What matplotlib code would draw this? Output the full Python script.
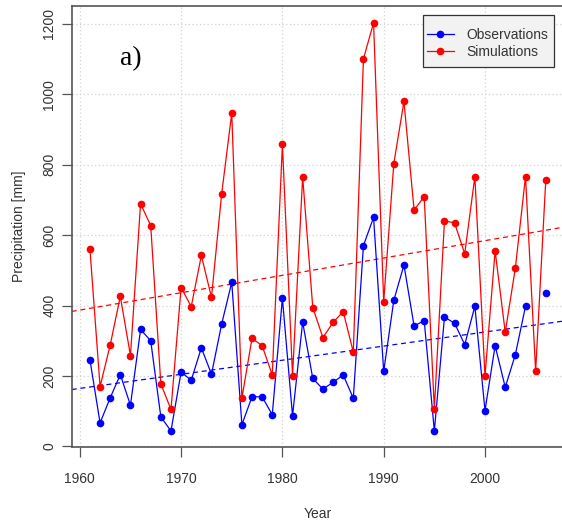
import numpy as np
import matplotlib
matplotlib.use('Agg')
import matplotlib.pyplot as plt
from matplotlib.patches import Rectangle

# Annual precipitation totals [mm], 1961-2006 (observation for 2005 missing)
years = list(range(1961, 2007))
observations = [246, 67, 138, 204, 117, 332, 300, 84, 44, 211,
                188, 280, 205, 347, 466, 62, 141, 141, 90, 421,
                87, 353, 193, 163, 182, 203, 137, 570, 650, 213,
                415, 515, 342, 357, 44, 367, 350, 289, 398, 102,
                286, 168, 261, 398, np.nan, 436]
simulations = [560, 170, 288, 426, 258, 689, 627, 178, 105, 451,
               397, 542, 423, 716, 946, 137, 307, 286, 203, 858,
               201, 765, 394, 309, 352, 383, 268, 1100, 1202, 411,
               803, 979, 671, 709, 107, 641, 634, 547, 766, 200,
               555, 324, 507, 766, 214, 756]
x_ticks = [1960, 1970, 1980, 1990, 2000]
y_ticks = [0, 200, 400, 600, 800, 1000, 1200]

plt.rcParams['font.family'] = ['Liberation Sans', 'DejaVu Sans']

W, H = 562, 522
fig = plt.figure(figsize=(W / 100, H / 100), dpi=100)
left, right, top, bottom = 71.7, 564.0, 6.0, 447.3
ax = fig.add_axes([left / W, 1 - bottom / H, (right - left) / W, (bottom - top) / H])

yrs = np.array(years, dtype=float)
obs = np.array(observations, dtype=float)
sim = np.array(simulations, dtype=float)

xlim = (1959.2, 2007.8)
ylim = (-2.3, 1250)

ax.grid(True, color='#d3d3d3', linestyle=(0, (1, 2)), linewidth=0.9)
ax.set_axisbelow(True)

# linear trends, drawn across the whole plotting region
xx = np.array(xlim)
for vals, col in [(obs, 'blue'), (sim, 'red')]:
    ok = ~np.isnan(vals)
    k, b = np.polyfit(yrs[ok], vals[ok], 1)
    ax.plot(xx, k * xx + b, color=col, lw=0.9, linestyle=(0, (4, 3)))

ax.plot(yrs, obs, color='blue', lw=0.9, marker='o', markersize=4.5, label='Observations')
ax.plot(yrs, sim, color='red', lw=0.9, marker='o', markersize=4.5, label='Simulations')

ax.set_xlim(*xlim)
ax.set_ylim(*ylim)
ax.set_xticks(x_ticks)
ax.set_yticks(y_ticks)
ax.tick_params(direction='out', length=7, width=0.9, color='#555555',
               labelcolor='#333333', labelsize=10)
ax.tick_params(axis='x', pad=11)
ax.tick_params(axis='y', pad=4)
for lab in ax.get_yticklabels():
    lab.set_rotation(90)
    lab.set_va('center')

for s in ax.spines.values():
    s.set_color('#555555')
    s.set_linewidth(1.2)

ax.set_xlabel('Year', fontsize=10, color='#333333', labelpad=15)
ax.set_ylabel('Precipitation [mm]', fontsize=10, color='#333333', labelpad=12)

ax.text(1965, 1100, 'a)', fontsize=20, family='Liberation Serif',
        ha='center', va='center')

# legend box drawn separately so its padding can differ vertically/horizontally
box = Rectangle((422.7 / W, 1 - 67.3 / H), (554.3 - 422.7) / W, 52.0 / H,
                transform=fig.transFigure, facecolor='#f2f2f2',
                edgecolor='#333333', linewidth=0.9, zorder=4.9, clip_on=False)
ax.add_patch(box)
leg = ax.legend(loc='upper right', bbox_to_anchor=(554.3 / W, 1 - 21.3 / H),
                bbox_transform=fig.transFigure, borderaxespad=0,
                frameon=False, fontsize=10, handlelength=1.9,
                labelspacing=0.25, borderpad=0.45, handletextpad=0.9)
for t in leg.get_texts():
    t.set_color('#333333')

fig.savefig('out.png', dpi=100)
